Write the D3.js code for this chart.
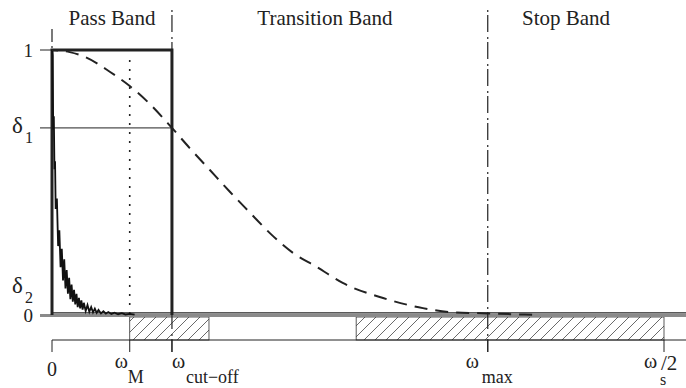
<!DOCTYPE html>
<html>
<head>
  <meta charset="utf-8">
  <script src="https://d3js.org/d3.v7.min.js"></script>
</head>
<body style="margin:0; background:#fff">
  <svg id="chart" width="686" height="388"></svg>
  <script>
    // band headings and their centres (normalised frequency, ws/2 = 1)
    const bandLabels = ["Pass Band", "Transition Band", "Stop Band"];
    const bandLabelX = [0.098, 0.446, 0.840];
    const bandEdges = [0, 0.196, 0.712];

    // frequency ticks
    const freqTicks = [0, 0.127, 0.196, 0.712, 1.0];
    const freqMain = ["0", "ω", "ω", "ω", "ω"];
    const freqSub = ["", "M", "cut−off", "max", "s"];
    const freqTail = ["", "", "", "", "/2"];

    // magnitude levels
    const levelValues = [1, 0.706, 0.008, 0];
    const levelLabels = ["1", "δ", "δ", "0"];
    const levelSubs = ["", "1", "2", ""];

    const omegaM = 0.127;
    const cutOff = 0.196;
    const xEnd = 1.036;

    // ideal low-pass response
    const idealX = [0, 0, 0.196, 0.196];
    const idealY = [0, 1, 1, 0];

    // smooth (dashed) response
    const smoothX = [0, 0.029, 0.054, 0.095, 0.127, 0.160, 0.196, 0.225, 0.258, 0.291, 0.324, 0.356,
      0.394, 0.433, 0.475, 0.541, 0.606, 0.650, 0.712, 0.797];
    const smoothY = [1.0, 0.992, 0.974, 0.917, 0.864, 0.796, 0.706, 0.630, 0.547, 0.464, 0.385, 0.309,
      0.234, 0.181, 0.121, 0.064, 0.026, 0.011, 0.006, 0.0];

    // spectrum of the signal (peaks / troughs)
    const specX = [0.000, 0.001, 0.002, 0.003, 0.004, 0.005, 0.006, 0.008, 0.010, 0.012, 0.014, 0.016,
      0.018, 0.020, 0.022, 0.024, 0.026, 0.028, 0.030, 0.032, 0.034, 0.036, 0.038, 0.040, 0.042, 0.044,
      0.046, 0.048, 0.050, 0.052, 0.055, 0.058, 0.061, 0.064, 0.067, 0.070, 0.073, 0.076, 0.080, 0.084,
      0.088, 0.092, 0.097, 0.102, 0.108, 0.114, 0.120, 0.127, 0.135];
    const specY = [1.00, 0.98, 0.70, 0.75, 0.55, 0.58, 0.40, 0.44, 0.26, 0.32, 0.18, 0.25,
      0.13, 0.21, 0.10, 0.17, 0.08, 0.14, 0.06, 0.115, 0.05, 0.095, 0.04, 0.08, 0.03, 0.065,
      0.025, 0.055, 0.02, 0.046, 0.015, 0.038, 0.012, 0.030, 0.010, 0.024, 0.008, 0.019, 0.006, 0.014,
      0.005, 0.011, 0.004, 0.009, 0.003, 0.007, 0.002, 0.004, 0.001];

    // hatched frequency spans
    const hatchStart = [0.127, 0.497];
    const hatchEnd = [0.2565, 1.0];

    const svg = d3.select("#chart");
    const x = d3.scaleLinear().domain([0, 1]).range([52, 664]);
    const y = d3.scaleLinear().domain([0, 1]).range([315, 50]);
    const axisY = y(0) + 25;
    const ink = "#222";

    const addText = (px, py, size, str) => svg.append("text")
      .attr("x", px).attr("y", py)
      .style("font-family", "Tinos")
      .style("font-size", size + "px")
      .style("fill", ink)
      .text(str);

    // hatch pattern
    const defs = svg.append("defs");
    defs.append("pattern")
      .attr("id", "hatch")
      .attr("patternUnits", "userSpaceOnUse")
      .attr("width", 11).attr("height", 11)
      .append("path")
      .attr("d", "M0,11 L11,0 M-2,2 L2,-2 M9,13 L13,9")
      .attr("stroke", "#444").attr("stroke-width", 0.8);

    // hatched areas
    hatchStart.forEach((s, i) => {
      svg.append("rect")
        .attr("x", x(s)).attr("y", y(0) + 2)
        .attr("width", x(hatchEnd[i]) - x(s))
        .attr("height", axisY - y(0) - 2)
        .attr("fill", "url(#hatch)")
        .attr("stroke", "#333").attr("stroke-width", 0.8);
    });

    // frequency axis line and ticks
    svg.append("line")
      .attr("x1", x(0)).attr("x2", x(xEnd))
      .attr("y1", axisY).attr("y2", axisY)
      .attr("stroke", ink).attr("stroke-width", 1);
    freqTicks.forEach(t => {
      svg.append("line")
        .attr("x1", x(t)).attr("x2", x(t))
        .attr("y1", axisY).attr("y2", axisY + 12)
        .attr("stroke", ink).attr("stroke-width", 1);
    });

    // zero line (grey) and delta2 line
    svg.append("line")
      .attr("x1", 40).attr("x2", x(xEnd))
      .attr("y1", y(0) + 0.5).attr("y2", y(0) + 0.5)
      .attr("stroke", "#8a8a8a").attr("stroke-width", 3);
    svg.append("line")
      .attr("x1", x(0)).attr("x2", x(xEnd))
      .attr("y1", y(levelValues[2])).attr("y2", y(levelValues[2]))
      .attr("stroke", ink).attr("stroke-width", 1.3);

    // tick at 1 and delta1 line
    svg.append("line")
      .attr("x1", 40).attr("x2", x(0))
      .attr("y1", y(1)).attr("y2", y(1))
      .attr("stroke", ink).attr("stroke-width", 1);
    svg.append("line")
      .attr("x1", 40).attr("x2", x(cutOff))
      .attr("y1", y(levelValues[1])).attr("y2", y(levelValues[1]))
      .attr("stroke", ink).attr("stroke-width", 1);

    // dotted line at omega_M
    svg.append("line")
      .attr("x1", x(omegaM)).attr("x2", x(omegaM))
      .attr("y1", y(1) + 10).attr("y2", y(0))
      .attr("stroke", ink).attr("stroke-width", 1.6)
      .attr("stroke-dasharray", "2,7");

    // band boundaries, dash-dot
    svg.append("line")
      .attr("x1", x(bandEdges[0])).attr("x2", x(bandEdges[0]))
      .attr("y1", 29).attr("y2", y(1))
      .attr("stroke", ink).attr("stroke-width", 1.2)
      .attr("stroke-dasharray", "13,4,2,30");
    bandEdges.slice(1).forEach(e => {
      svg.append("line")
        .attr("x1", x(e)).attr("x2", x(e))
        .attr("y1", 10).attr("y2", axisY + 12)
        .attr("stroke", ink).attr("stroke-width", 1.2)
        .attr("stroke-dasharray", "2,3,17,5");
    });

    // ideal response
    const lineXY = (xs, ys) => d3.line()
      .x((d, i) => x(xs[i]))
      .y((d, i) => y(ys[i]))(xs);

    svg.append("path")
      .attr("d", lineXY(idealX, idealY))
      .attr("fill", "none")
      .attr("stroke", ink).attr("stroke-width", 3);

    // signal spectrum
    svg.append("path")
      .attr("d", lineXY(specX, specY))
      .attr("fill", "none")
      .attr("stroke", "#111").attr("stroke-width", 1.8);

    // smooth dashed response
    svg.append("path")
      .attr("d", d3.line().curve(d3.curveMonotoneX)
        .x((d, i) => x(smoothX[i]))
        .y((d, i) => y(smoothY[i]))(smoothX))
      .attr("fill", "none")
      .attr("stroke", ink).attr("stroke-width", 2)
      .attr("stroke-dasharray", "13,8")
      .attr("stroke-dashoffset", -14);

    // band headings
    bandLabels.forEach((b, i) => {
      addText(x(bandLabelX[i]), 25, 21, b).attr("text-anchor", "middle");
    });

    // magnitude labels
    levelLabels.forEach((l, i) => {
      const v = levelValues[i];
      if (levelSubs[i] === "") {
        addText(33, y(v) + 7, 19, l).attr("text-anchor", "end");
      } else {
        const base = i === 2 ? y(v) - 20 : y(v) + 5;
        addText(12, base, 23, l);
        addText(25, base + 10, 16, levelSubs[i]);
      }
    });

    // frequency labels
    const mainDx = [0, -15, 0, -22, -20];
    const subDx = [0, -2, 14, -6, -4];
    freqTicks.forEach((t, i) => {
      if (freqSub[i] === "") {
        addText(x(t), 376, 20, freqMain[i]).attr("text-anchor", "middle");
        return;
      }
      addText(x(t) + mainDx[i], 368, 20, freqMain[i]);
      addText(x(t) + subDx[i], i === 4 ? 385 : 383, i === 4 ? 16 : 18, freqSub[i]);
      if (freqTail[i] !== "") {
        addText(x(t) - 3, 370, 21, freqTail[i]);
      }
    });
  </script>
</body>
</html>
